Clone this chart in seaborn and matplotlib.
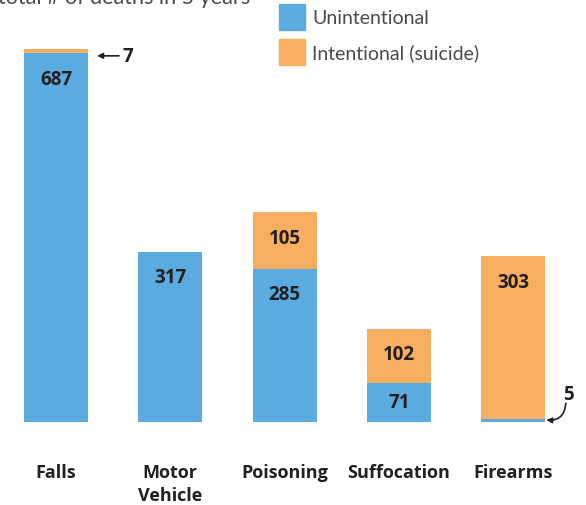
import matplotlib
matplotlib.use("Agg")
import matplotlib.pyplot as plt
import seaborn as sns
import pandas as pd

# data
categories = ["Falls", "Motor\nVehicle", "Poisoning", "Suffocation", "Firearms"]
unintentional = [687, 317, 285, 71, 5]
intentional = [7, 0, 105, 102, 303]
series_names = ["Unintentional", "Intentional (suicide)"]

BLUE = "#5aabdf"
ORANGE = "#f8ae5f"
TEXT = "#231f20"

sns.set_theme(style="white")
plt.rcParams["font.family"] = ["Open Sans", "DejaVu Sans"]

df = pd.DataFrame({"cat": categories, "unint": unintentional, "int": intentional})
df["total"] = df["unint"] + df["int"]

fig = plt.figure(figsize=(5.86, 5.06), dpi=100)
ax = fig.add_axes([0, 0.165, 1, 0.835])

# stacked bars: total (orange) behind unintentional (blue)
sns.barplot(data=df, x="cat", y="total", color=ORANGE, width=0.56,
            saturation=1, ax=ax, linewidth=0)
sns.barplot(data=df, x="cat", y="unint", color=BLUE, width=0.56,
            saturation=1, ax=ax, linewidth=0)

ax.set_xlim(-0.49, 4.637)
ax.set_ylim(0, 788)
sns.despine(ax=ax, left=True, bottom=True)
ax.set_yticks([])
ax.set_xlabel("")
ax.set_ylabel("")
ax.tick_params(axis="x", length=0, pad=30)
ax.set_xticks(range(len(categories)))
ax.set_xticklabels(categories, fontsize=13, fontweight="bold", color=TEXT,
                   va="top", linespacing=1.35)

# value labels inside segments
def seg_label(x, top, h):
    if h < 40:
        return
    y = top - min(48, h / 2)
    ax.text(x, y, f"{h}", ha="center", va="center", fontsize=13.5,
            fontweight="bold", color=TEXT)

for i, (u, s) in enumerate(zip(unintentional, intentional)):
    seg_label(i, u, u)
    seg_label(i, u + s, s)

# small-value callouts
ax.annotate(f"{intentional[0]}", xy=(0.36, unintentional[0] + intentional[0] - 12),
            xytext=(0.58, unintentional[0] + intentional[0] - 12),
            fontsize=13.5, fontweight="bold", color=TEXT, va="center", ha="left",
            arrowprops=dict(arrowstyle="-|>", color=TEXT, lw=1.2,
                            mutation_scale=8, shrinkA=0, shrinkB=0))
ax.text(4.48, 52, f"{unintentional[4]}", fontsize=13.5, fontweight="bold",
        color=TEXT, va="center", ha="center")
ax.annotate("", xy=(4.29, 3), xytext=(4.46, 34),
            arrowprops=dict(arrowstyle="-|>", color=TEXT, lw=1.2,
                            mutation_scale=8, shrinkA=0, shrinkB=0,
                            connectionstyle="arc3,rad=-0.5"))

# legend
lx, ly, sz = 279 / 586, 1 - 5 / 506, 26 / 506
for k, (name, col) in enumerate(zip(series_names, [BLUE, ORANGE])):
    top = ly - k * 35 / 506
    fig.patches.append(plt.Rectangle((lx, top - sz), 26 / 586, sz,
                                     transform=fig.transFigure, color=col,
                                     figure=fig))
    fig.text(312 / 586, top - sz / 2, name, fontsize=14, color="#4a4a4a",
             va="center", ha="left", family=["Lato", "DejaVu Sans"])

# cut-off title at the very top
fig.text(-0.004, 1 - 4 / 506, "total # of deaths in 5 years", fontsize=15.5,
         color="#4a4a4a", va="baseline", ha="left", family=["Lato", "DejaVu Sans"])

fig.savefig("out.png", dpi=100)
